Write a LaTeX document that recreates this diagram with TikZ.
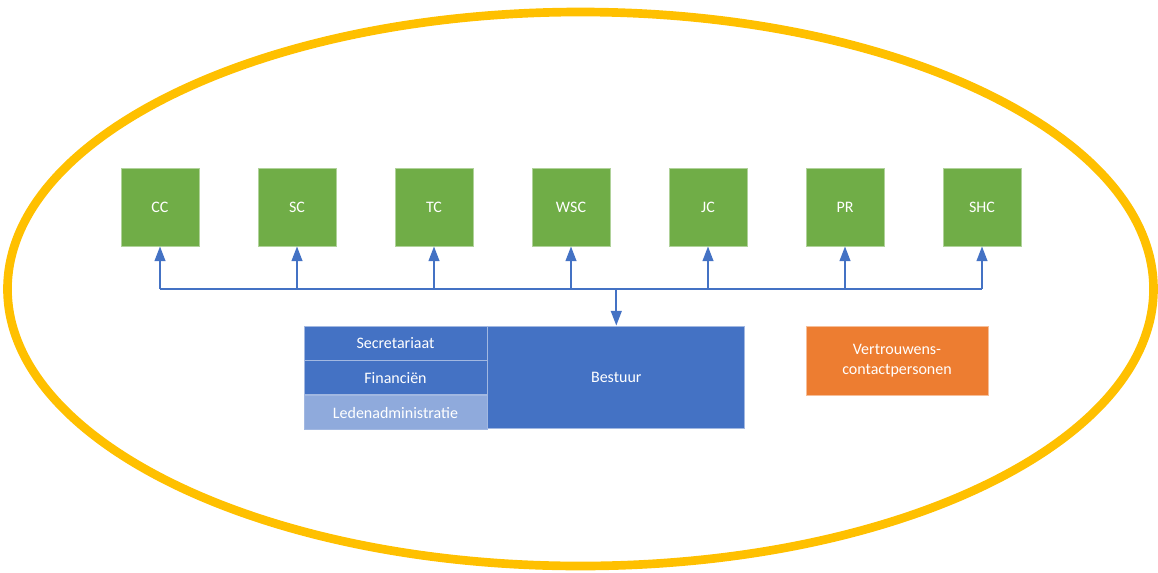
\documentclass[tikz,border=0pt]{standalone}
\usepackage{fontspec}
\setmainfont{Carlito}
\usetikzlibrary{positioning}
\usetikzlibrary{arrows.meta}

\definecolor{ringgold}{HTML}{FFC000}
\definecolor{comgreen}{HTML}{70AD47}
\definecolor{boardblue}{HTML}{4472C4}
\definecolor{lightblue}{HTML}{8FAADC}
\definecolor{vcporange}{HTML}{ED7D31}

\tikzset{
  commissie/.style={fill=comgreen,draw=comgreen!55!white,line width=0.6pt,
    minimum width=58.5pt,minimum height=58.5pt,text=white,font=\fontsize{12}{14}\selectfont},
  taakcel/.style={fill=boardblue,draw=boardblue!50!white,line width=0.6pt,
    minimum width=137.25pt,minimum height=25.5pt,text=white,font=\fontsize{12}{14}\selectfont},
  verbinding/.style={draw=boardblue,line width=1.5pt},
  pijl/.style={verbinding,-{Triangle[width=8pt,length=11pt]}}
}

\begin{document}
\begin{tikzpicture}[x=0.75pt,y=-0.75pt]
 \useasboundingbox (0,0) rectangle (1158,572);
 \draw[ringgold,line width=6.5pt](580.5,289) ellipse [x radius=573,y radius=277];
 % commissies
 \node[commissie] (cc) at (160,207) {CC};
 \node[commissie] (sc) at (297,207) {SC};
 \node[commissie] (tc) at (434,207) {TC};
 \node[commissie] (wsc) at (571,207) {WSC};
 \node[commissie] (jc) at (708,207) {JC};
 \node[commissie] (pr) at (845,207) {PR};
 \node[commissie] (shc) at (982,207) {SHC};
 % bestuur
 \node[taakcel] (secr) at (395.5,343) {Secretariaat};
 \node[taakcel,below=0pt of secr] (fin) {Financiën};
 \node[taakcel,below=0pt of fin,fill=lightblue] (leden) {Ledenadministratie};
 \node[taakcel,anchor=north west,minimum width=192.75pt,minimum height=76.5pt] (bestuur) at (secr.north east) {Bestuur};
 \node[fill=vcporange,draw=vcporange!50!white,line width=0.6pt,minimum width=136.5pt,minimum height=51.75pt,
   text=white,align=center,font=\fontsize{12}{15}\selectfont] (vcp) at (897,360.5) {Vertrouwens-\\contactpersonen};
 % verbindingen
 \coordinate (bus) at (bestuur.north |- 0,289);
 \draw[verbinding] (cc.south |- bus) -- (shc.south |- bus);
 \draw[pijl] (cc.south |- bus) -- (cc.south);
 \draw[pijl] (sc.south |- bus) -- (sc.south);
 \draw[pijl] (tc.south |- bus) -- (tc.south);
 \draw[pijl] (wsc.south |- bus) -- (wsc.south);
 \draw[pijl] (jc.south |- bus) -- (jc.south);
 \draw[pijl] (pr.south |- bus) -- (pr.south);
 \draw[pijl] (shc.south |- bus) -- (shc.south);
 \draw[pijl] (bus) -- (bestuur.north);
\end{tikzpicture}
\end{document}
